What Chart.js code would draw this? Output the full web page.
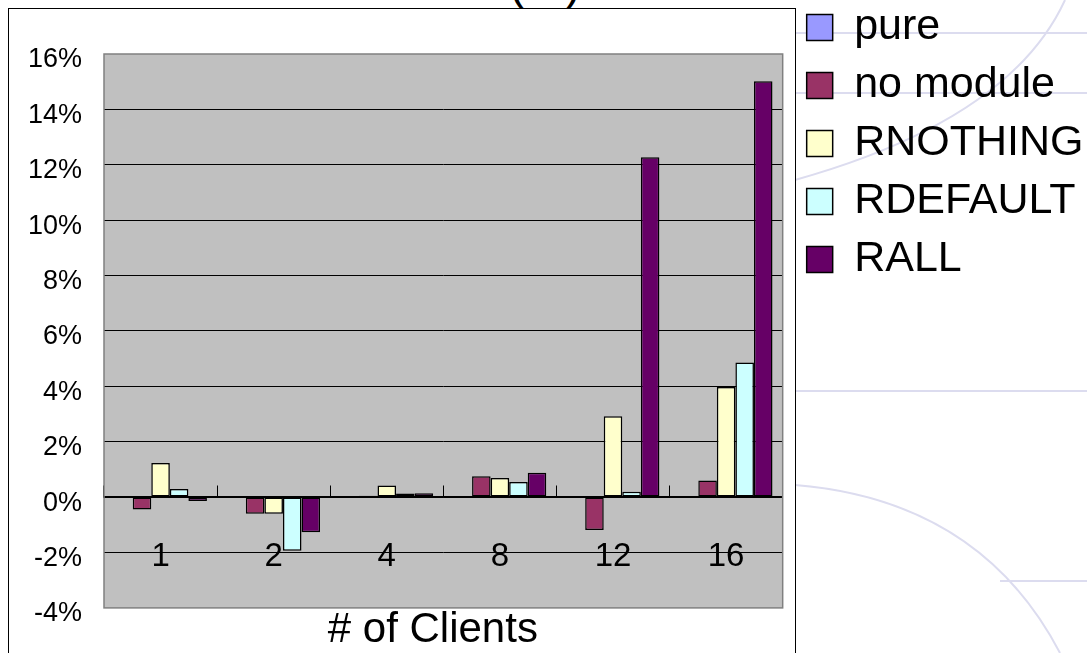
<!DOCTYPE html>
<html>
<head>
<meta charset="utf-8">
<title>Overhead by number of clients</title>
<script src="https://cdn.jsdelivr.net/npm/chart.js@4.4.1/dist/chart.umd.min.js"></script>
<style>
  html, body { margin: 0; padding: 0; background: #fff; overflow: hidden; }
  #stage { position: relative; width: 1087px; height: 653px; overflow: hidden; }
  #bg { position: absolute; left: 0; top: 0; }
  #frame { position: absolute; left: 8px; top: 8px; width: 786px; height: 700px;
           border: 1px solid #000; background: #fff; }
  #cut-title { position: absolute; left: 445px; width: 200px; top: -40px; text-align: center;
               font: 46px/46px "Liberation Sans", Arial, sans-serif; color: #000; }
  #wrap { position: absolute; left: 0; top: 0; width: 1087px; height: 653px; }
</style>
</head>
<body>
<div id="stage">
  <svg id="bg" width="1087" height="653">
    <g fill="none" stroke="#dcdcef" stroke-width="2">
      <line x1="795" y1="33" x2="1087" y2="33"/>
      <line x1="795" y1="93" x2="1087" y2="93"/>
      <line x1="795" y1="391" x2="1087" y2="391"/>
      <line x1="1000" y1="581" x2="1087" y2="581"/>
      <path d="M 795 485 Q 980 500 1060 653"/>
      <path d="M 1065 0 Q 1010 120 795 180"/>
    </g>
  </svg>
  <div id="frame"></div>
  <div id="cut-title">(%)</div>
  <div id="wrap"><canvas id="chart" width="1087" height="653"></canvas></div>
</div>
<script>
document.addEventListener('DOMContentLoaded', function() {
  // categories (# of clients) and per-configuration overhead in %
  const clients = ['1', '2', '4', '8', '12', '16'];
  const pure = [0, 0, 0, 0, 0, 0];
  const noModule = [-0.45, -0.6, 0.05, 0.75, -1.19, 0.6];
  const rNothing = [1.23, -0.6, 0.42, 0.69, 2.92, 3.98];
  const rDefault = [0.29, -1.94, 0.13, 0.55, 0.19, 4.86];
  const rAll = [-0.14, -1.27, 0.14, 0.88, 12.27, 15.02];
  const yTicks = [-4, -2, 0, 2, 4, 6, 8, 10, 12, 14, 16];

  const FONT = '"Liberation Sans", Arial, sans-serif';

  // grey plot area + its border
  const plotArea = {
    id: 'plotArea',
    beforeDraw(chart) {
      const a = chart.chartArea;
      const ctx = chart.ctx;
      ctx.save();
      ctx.fillStyle = '#c0c0c0';
      ctx.fillRect(a.left, a.top, a.right - a.left, a.bottom - a.top);
      ctx.restore();
    },
    beforeDatasetsDraw(chart) {
      const a = chart.chartArea;
      const ctx = chart.ctx;
      ctx.save();
      ctx.strokeStyle = '#808080';
      ctx.lineWidth = 1.5;
      ctx.strokeRect(a.left, a.top, a.right - a.left, a.bottom - a.top);
      ctx.restore();
    }
  };

  function series(label, data, color) {
    return {
      label: label,
      data: data,
      backgroundColor: color,
      borderColor: '#000',
      borderWidth: 1.5,
      borderSkipped: false
    };
  }

  new Chart(document.getElementById('chart'), {
    type: 'bar',
    data: {
      labels: clients,
      datasets: [
        series('pure', pure, '#9999ff'),
        series('no module', noModule, '#993366'),
        series('RNOTHING', rNothing, '#ffffcc'),
        series('RDEFAULT', rDefault, '#ccffff'),
        series('RALL', rAll, '#660066')
      ]
    },
    options: {
      responsive: false,
      animation: false,
      layout: { padding: { left: 8, top: -9, right: -28, bottom: -3 } },
      datasets: { bar: { categoryPercentage: 0.82, barPercentage: 1.0 } },
      scales: {
        x: {
          position: { y: 0 },
          grid: { drawOnChartArea: false, drawTicks: true, tickLength: -12, color: '#000', lineWidth: 1, offset: true },
          border: { display: true, color: '#000', width: 1.5 },
          ticks: { color: '#000', font: { family: FONT, size: 33 }, padding: 52, maxRotation: 0 }
        },
        y: {
          min: -4,
          max: 16,
          afterBuildTicks(scale) {
            scale.ticks = yTicks.map(v => ({ value: v }));
          },
          afterFit(scale) { scale.width = 96; },
          grid: {
            drawTicks: false,
            lineWidth: 1,
            color: ctx => (ctx.tick && (ctx.tick.value === 16 || ctx.tick.value === -4)) ? 'rgba(0,0,0,0)' : '#000'
          },
          border: { display: false },
          ticks: {
            color: '#000',
            padding: 22,
            labelOffset: 6,
            font: { family: FONT, size: 27 },
            callback: v => v + '%'
          }
        },
        // empty spacer between plot and legend
        gap: {
          type: 'linear',
          position: 'right',
          display: true,
          grid: { display: false },
          border: { display: false },
          ticks: { display: false },
          afterFit(scale) { scale.width = 9; }
        }
      },
      plugins: {
        legend: {
          position: 'right',
          align: 'start',
          maxWidth: 340,
          labels: {
            color: '#000',
            font: { family: FONT, size: 43 },
            boxWidth: 26,
            boxHeight: 26,
            padding: 15,
            generateLabels(chart) {
              return Chart.defaults.plugins.legend.labels.generateLabels(chart)
                .map(item => Object.assign(item, { text: item.text + '\u2002' }));
            }
          }
        },
        subtitle: {
          display: true,
          position: 'top',
          fullSize: false,
          text: ' ',
          font: { size: 20, lineHeight: 1 },
          padding: { top: 43, bottom: 0 }
        },
        title: {
          display: true,
          position: 'bottom',
          fullSize: false,
          text: '# of Clients\u2002',
          color: '#000',
          font: { family: FONT, size: 42, weight: 'normal', lineHeight: 1.05 },
          padding: { top: 0, bottom: 4 }
        },
        tooltip: { enabled: false }
      }
    },
    plugins: [plotArea]
  });
});
</script>
</body>
</html>
